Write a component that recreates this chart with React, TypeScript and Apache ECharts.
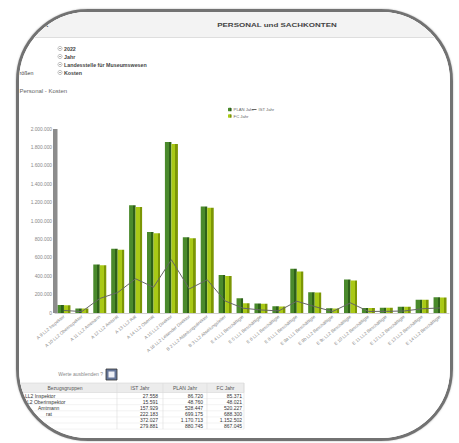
import React, { useEffect, useRef } from "react";
import * as echarts from "echarts";

const categories = [
  "A 9 LL2 Inspektor",
  "A 10 LL2 Oberinspektor",
  "A 11 LL2 Amtmann",
  "A 12 LL2 Amtsrat",
  "A 13 LL2 Rat",
  "A 14 LL2 Oberrat",
  "A 15 LL2 Direktor",
  "A 16 LL2 Leitender Direktor",
  "B 2 LL2 Abteilungsdirektor",
  "B 3 LL2 Abteilungsleiter",
  "E 4 LL1 Beschäftigte",
  "E 5 LL1 Beschäftigte",
  "E 6 LL1 Beschäftigte",
  "E 8 LL1 Beschäftigte",
  "E 9a LL1 Beschäftigte",
  "E 9b LL2 Beschäftigte",
  "E 9c LL2 Beschäftigte",
  "E 10 LL2 Beschäftigte",
  "E 11 LL2 Beschäftigte",
  "E 12 LL2 Beschäftigte",
  "E 13 LL2 Beschäftigte",
  "E 14 LL2 Beschäftigte",
];

const planValues = [86720, 48760, 528447, 699175, 1170713, 880745, 1858000, 823000, 1158000, 412000, 161000, 102000, 73000, 481000, 226000, 51000, 364000, 55000, 58000, 69000, 145000, 171000];
const fcValues = [85371, 48021, 520227, 688300, 1152502, 867045, 1836000, 812000, 1144000, 401000, 106000, 101000, 72000, 451000, 224000, 50000, 353000, 55000, 57000, 68000, 145000, 168000];
const istValues = [27558, 15591, 157929, 222183, 372027, 279881, 579000, 262000, 361000, 131000, 52000, 33000, 23000, 128000, 70000, 16000, 110000, 17000, 18000, 22000, 46000, 55000];

const filterItems = ["2022", "Jahr", "Landesstelle für Museumswesen", "Kosten"];
const tableHeaders = ["Bezugsgruppen", "IST Jahr", "PLAN Jahr", "FC Jahr"];
const tableRowCount = 6;

const fmt = (v: number) => String(Math.round(v)).replace(/\B(?=(\d{3})+(?!\d))/g, ".");

const grad = (front: string, side: string) =>
  new echarts.graphic.LinearGradient(0, 0, 1, 0, [
    { offset: 0, color: front },
    { offset: 0.62, color: front },
    { offset: 0.62, color: side },
    { offset: 1, color: side },
  ]);

const FONT = "Arial, Liberation Sans";

function buildGraphics() {
  const g: any[] = [];
  g.push({ type: "rect", shape: { x: 0, y: 0, width: 459, height: 37 }, style: { fill: "#f3f3f3" }, z: 0 });
  g.push({ type: "line", shape: { x1: 0, y1: 37.5, x2: 459, y2: 37.5 }, style: { stroke: "#dedede", lineWidth: 1 } });
  g.push({
    type: "text", x: 277, y: 25, scaleX: 1.38,
    style: { text: "PERSONAL und SACHKONTEN", fontSize: 5.8, fontWeight: "bold", fontFamily: FONT, fill: "#444", align: "center", verticalAlign: "middle" },
  });
  g.push({
    type: "text", x: 44, y: 25,
    style: { text: "K", fontSize: 6, fontWeight: "bold", fontFamily: FONT, fill: "#444", align: "left", verticalAlign: "middle" },
  });
  const fy = [48.5, 56.5, 64.5, 72.5];
  filterItems.forEach((t, i) => {
    g.push({ type: "circle", shape: { cx: 60, cy: fy[i], r: 2.1 }, style: { fill: "#fff", stroke: "#999", lineWidth: 0.6 } });
    g.push({ type: "line", shape: { x1: 59, y1: fy[i], x2: 61, y2: fy[i] }, style: { stroke: "#777", lineWidth: 0.6 } });
    g.push({
      type: "text", x: 64, y: fy[i],
      style: { text: t, fontSize: 5.3, fontWeight: "bold", fontFamily: FONT, fill: "#444", align: "left", verticalAlign: "middle" },
    });
  });
  g.push({ type: "text", x: 20, y: 56.5, style: { text: "t", fontSize: 5.3, fontFamily: FONT, fill: "#444", align: "left", verticalAlign: "middle" } });
  g.push({ type: "text", x: 19.5, y: 72.5, style: { text: "rößen", fontSize: 5.3, fontFamily: FONT, fill: "#444", align: "left", verticalAlign: "middle" } });
  g.push({ type: "text", x: 19.5, y: 91, style: { text: "Personal - Kosten", fontSize: 6, fontFamily: FONT, fill: "#666", align: "left", verticalAlign: "middle" } });
  g.push({ type: "rect", shape: { x: 53, y: 129, width: 4.5, height: 184 }, style: { fill: "#8c8c8c" }, z: 10 });
  g.push({ type: "text", x: 103, y: 373.5, style: { text: "Werte ausblenden ?", fontSize: 5, fontFamily: FONT, fill: "#888", align: "right", verticalAlign: "middle" } });
  g.push({ type: "rect", shape: { x: 106, y: 369, width: 11, height: 11 }, style: { fill: "#66779a", stroke: "#333", lineWidth: 0.8 } });
  g.push({ type: "rect", shape: { x: 108.5, y: 371.5, width: 6, height: 6 }, style: { fill: "#eef0f6" } });
  const colX = [10, 117, 163, 207, 244];
  const headTop = 383;
  const headH = 9.5;
  const rowH = 6.1;
  const rowsTop = headTop + headH;
  const tableBottom = rowsTop + rowH * tableRowCount;
  g.push({ type: "rect", shape: { x: colX[0], y: headTop, width: colX[4] - colX[0], height: headH }, style: { fill: "#ececec", stroke: "#d6d6d6", lineWidth: 0.6 } });
  for (let i = 1; i <= tableRowCount; i++) {
    const y = rowsTop + rowH * i;
    g.push({ type: "line", shape: { x1: colX[0], y1: y, x2: colX[4], y2: y }, style: { stroke: "#e6e6e6", lineWidth: 0.5 } });
  }
  colX.slice(1).forEach((x) => {
    g.push({ type: "line", shape: { x1: x, y1: headTop, x2: x, y2: tableBottom }, style: { stroke: "#dcdcdc", lineWidth: 0.6 } });
  });
  const headCenters = [65, 140, 185, 225.5];
  tableHeaders.forEach((h, i) => {
    g.push({ type: "text", x: headCenters[i], y: headTop + headH / 2, style: { text: h, fontSize: 5, fontFamily: FONT, fill: "#555", align: "center", verticalAlign: "middle" } });
  });
  const visibleNames = ["LL2 Inspektor", "L2 Oberinspektor", "Amtmann", "rat"];
  const nameX = [25, 27, 38, 46];
  for (let r = 0; r < tableRowCount; r++) {
    const y = rowsTop + rowH * r + rowH / 2;
    const s = { fontSize: 5, fontFamily: FONT, fill: "#333", verticalAlign: "middle" };
    if (r < visibleNames.length) g.push({ type: "text", x: nameX[r], y, style: { ...s, text: visibleNames[r], align: "left" } });
    g.push({ type: "text", x: 158, y, style: { ...s, text: fmt(istValues[r]), align: "right" } });
    g.push({ type: "text", x: 203, y, style: { ...s, text: fmt(planValues[r]), align: "right" } });
    g.push({ type: "text", x: 242, y, style: { ...s, text: fmt(fcValues[r]), align: "right" } });
  }
  return g;
}

export default function App() {
  const ref = useRef<HTMLDivElement>(null);
  useEffect(() => {
    document.body.style.margin = "0";
    const chart = echarts.init(ref.current!, undefined, { renderer: "svg", width: 459, height: 443 });
    const legendBase = {
      padding: 0, itemGap: 3, itemWidth: 3.6, itemHeight: 3.6, orient: "horizontal",
      textStyle: { fontSize: 4.2, color: "#666", padding: [0, 0, 0, -3] },
    };
    chart.setOption({
      animation: false,
      backgroundColor: "#fff",
      textStyle: { fontFamily: FONT },
      legend: [
        { ...legendBase, left: 228, top: 107.5, data: ["PLAN Jahr"] },
        { ...legendBase, left: 252, top: 107.5, itemWidth: 4.5, itemHeight: 0.8, icon: "rect", data: ["IST Jahr"] },
        { ...legendBase, left: 228, top: 114, data: ["FC Jahr"] },
      ],
      grid: { left: 55, right: 10, top: 129, bottom: 130 },
      xAxis: {
        type: "category",
        data: categories,
        axisLine: { lineStyle: { color: "#cfcfcf", width: 1 } },
        axisTick: { show: false },
        axisLabel: { interval: 0, rotate: 40, fontSize: 4.5, color: "#888", margin: 3 },
      },
      yAxis: {
        type: "value",
        min: 0, max: 2000000, interval: 200000,
        axisLine: { show: false },
        axisTick: { show: false },
        splitLine: { show: false },
        axisLabel: { fontSize: 4.8, color: "#888", margin: 3, formatter: (v: number) => fmt(v) },
      },
      series: [
        {
          name: "PLAN Jahr", type: "bar", data: planValues, barWidth: 6.5, barGap: "0%",
          itemStyle: { color: grad("#4a8a2c", "#2e6119") },
        },
        {
          name: "FC Jahr", type: "bar", data: fcValues, barWidth: 6.5,
          itemStyle: { color: grad("#a9c916", "#7c9605") },
        },
        {
          name: "IST Jahr", type: "line", data: istValues, symbol: "none", z: 5,
          lineStyle: { color: "#666", width: 1 }, itemStyle: { color: "#666" },
        },
      ],
      graphic: buildGraphics(),
    });
    return () => chart.dispose();
  }, []);
  return (
    <div style={{ position: "fixed", left: 0, top: 0, width: 459, height: 443, background: "#fff", overflow: "hidden" }}>
      <div
        style={{
          position: "absolute", left: 16, top: 9, width: 431, height: 426,
          border: "3px solid #727272", borderRadius: 72, overflow: "hidden",
          boxShadow: "0 0 2px rgba(0,0,0,0.35)",
        }}
      >
        <div ref={ref} style={{ position: "absolute", left: -19, top: -12, width: 459, height: 443 }} />
      </div>
    </div>
  );
}
